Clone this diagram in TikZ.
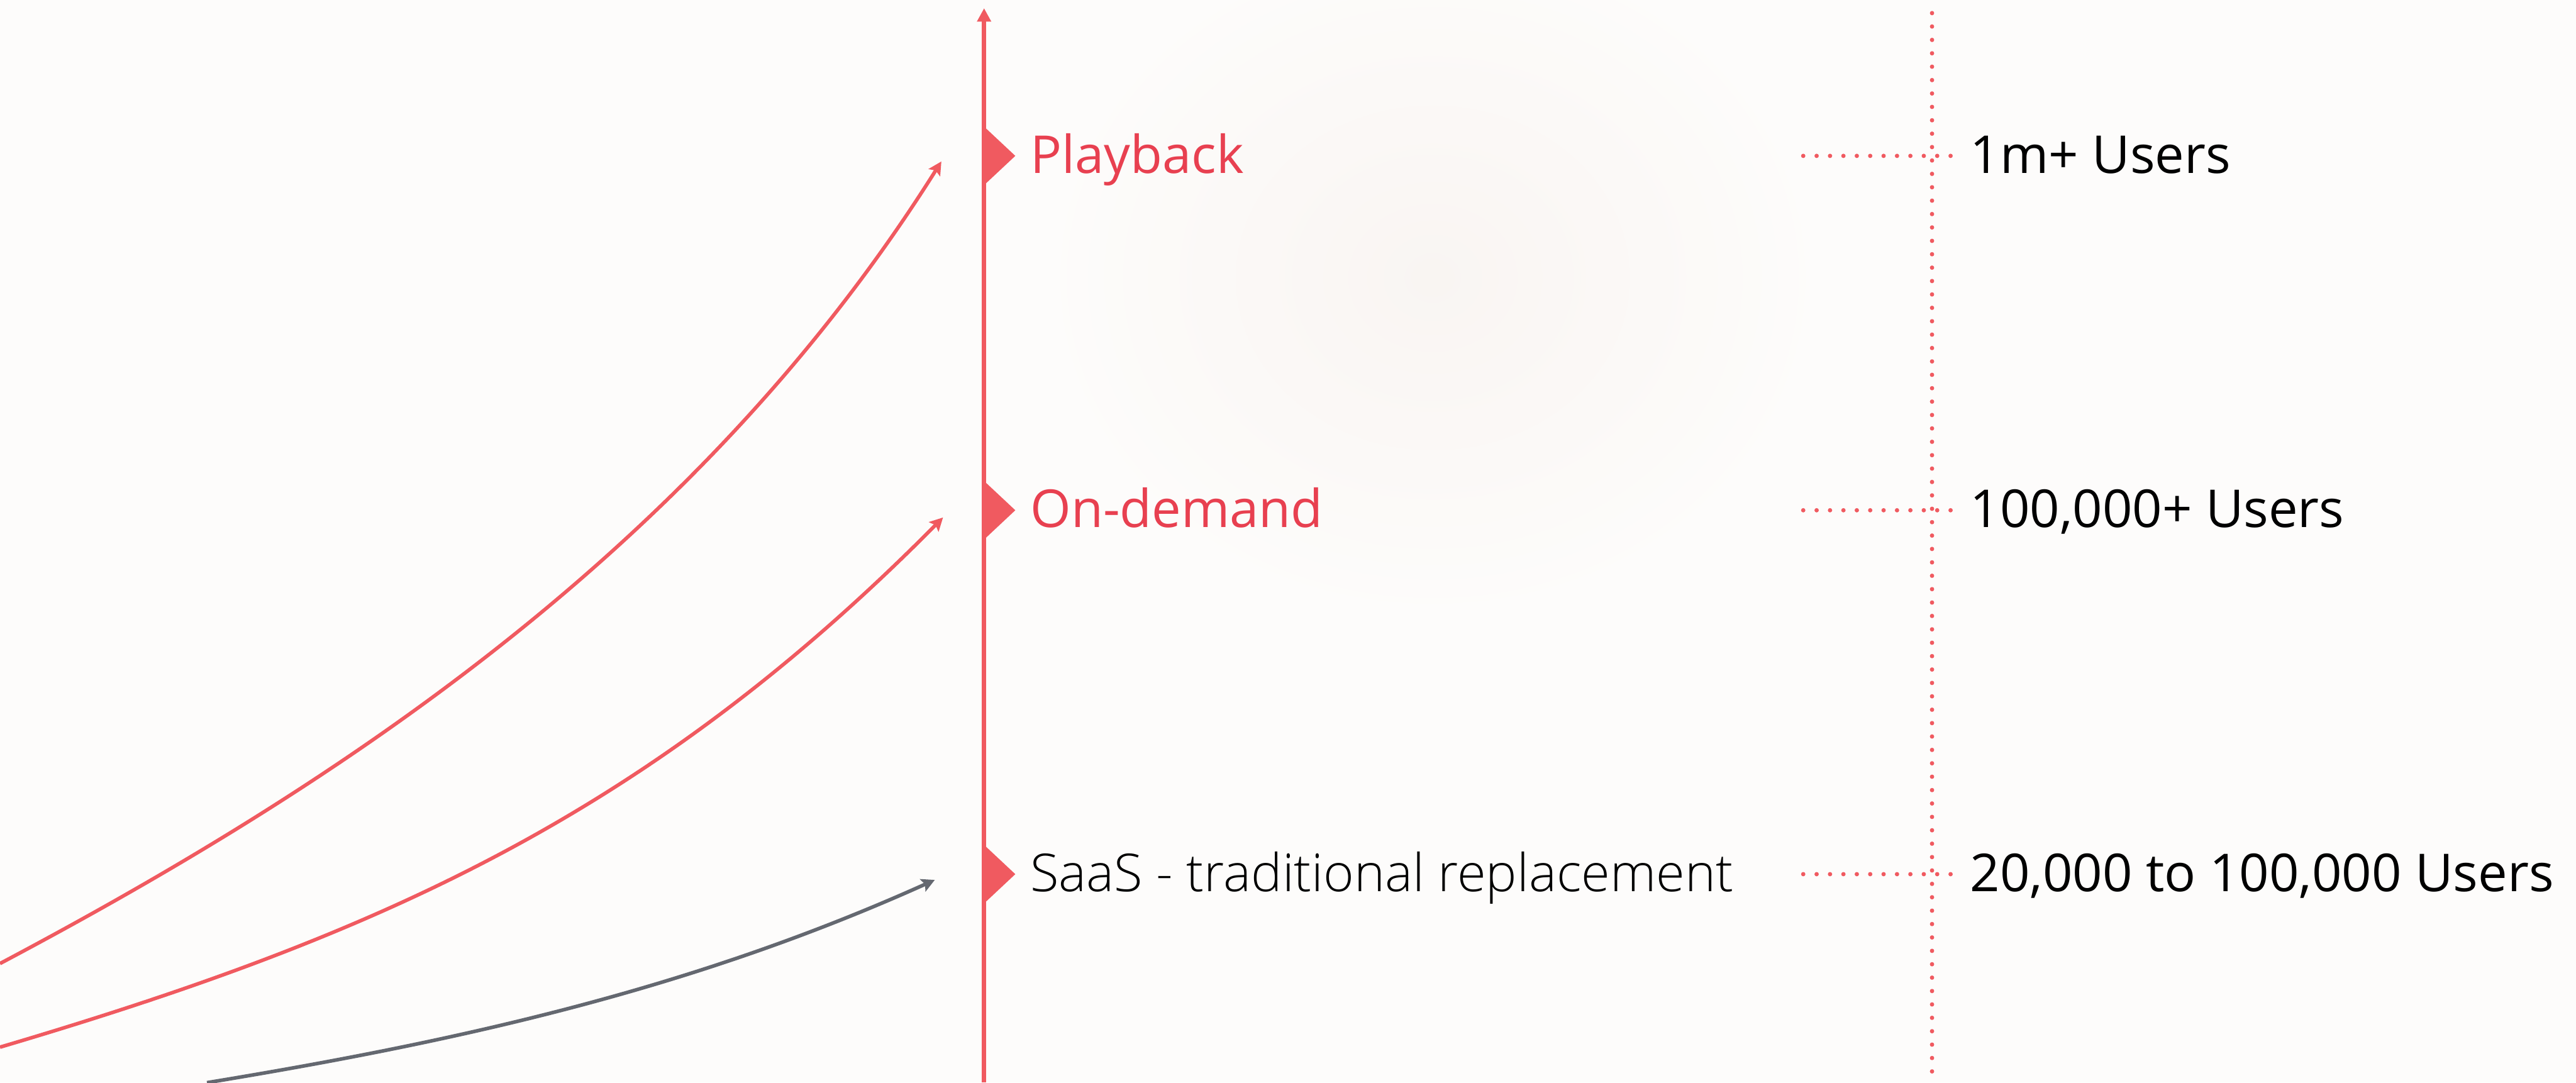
\documentclass[tikz,border=0pt]{standalone}
\usepackage{fontspec}
\setmainfont{Open Sans}
\newfontfamily\lightfont{Open Sans Light}
\usetikzlibrary{arrows.meta, positioning}
\definecolor{myred}{HTML}{F05A60}
\definecolor{mytextred}{HTML}{E84050}
\definecolor{mygray}{HTML}{646870}
\definecolor{mybg}{HTML}{FDFCFB}
\definecolor{myglow}{HTML}{F9F5F2}
\tikzset{
	flagnode/.pic={
			\fill[myred]
			(0,0.178) --
			(0.19,0) --
			(0,-0.178) --
			cycle;
		}
}
\tikzset{
	redtext/.style={font=\fontsize{9.05}{11}\selectfont, text=mytextred, anchor=base west, inner sep=0pt}
}
\tikzset{
	blacktext/.style={font=\fontsize{9.05}{11}\selectfont, text=black, anchor=base west, inner sep=0pt}
}
\tikzset{
	lighttext/.style={font=\lightfont\fontsize{9.05}{11}\selectfont, text=black, anchor=base west, inner sep=0pt}
}
\tikzset{
	dotline/.style={myred, line width=0.75pt, line cap=round, dash pattern=on 0pt off 2.32pt}
}
\tikzset{
	growth/.style={line width=0.62pt, -{Stealth[length=0.08cm, width=0.082cm, inset=0.015cm]}}
}

\begin{document}
\begin{tikzpicture}

			\useasboundingbox (0,0) rectangle (15.68,6.59);

			% paper and soft glow
			\begin{scope}
				\clip (0,0) rectangle (15.68,6.59);
				\fill[mybg] (0,0) rectangle (15.68,6.59);
				\shade[inner color=myglow, outer color=mybg] (8.72,4.9) ellipse (2.4 and 2.1);
			\end{scope}

			% growth curves
			\begin{scope}
				\coordinate (cA0) at (0,0.725);
				\coordinate (cA1) at (5.73,5.607);
				\coordinate (cB0) at (0,0.216);
				\coordinate (cB1) at (5.74,3.44);
				\coordinate (cC0) at (1.26,0);
				\coordinate (cC1) at (5.69,1.234);

				\draw[growth, myred] (cA0) .. controls (2.0,1.785) and (4.23,3.222) .. (cA1);
				\draw[growth, myred] (cB0) .. controls (2.30,0.897) and (3.94,1.622) .. (cB1);
				\draw[growth, mygray] (cC0) .. controls (2.76,0.247) and (4.19,0.559) .. (cC1);
			\end{scope}

			% axis with its flags
			\begin{scope}
				\coordinate (axbot) at (5.99,0);
				\coordinate (axtop) at (5.99,6.54);
				\draw[myred, line width=0.77pt, -{Triangle[length=0.082cm, width=0.082cm]}] (axbot) -- (axtop);

				\coordinate (mP) at (5.99,5.641);
				\coordinate (mO) at (5.99,3.484);
				\coordinate (mS) at (5.99,1.269);

				\pic at (mP) {flagnode};
				\pic at (mO) {flagnode};
				\pic at (mS) {flagnode};

				\node[redtext] (lP) at (6.265,5.536) {Playback};
				\node[redtext] (lO) at (6.265,3.379) {On-demand};
				\node[lighttext] (lS) at (6.265,1.164) {SaaS - traditional replacement};
			\end{scope}

			% user counts
			\begin{scope}
				\coordinate (dtop) at (11.76,6.51);
				\coordinate (dbot) at (11.76,0.06);
				\draw[dotline] (dtop) -- (dbot);

				\coordinate (hP0) at (10.976,5.641);
				\coordinate (hP1) at (11.88,5.641);
				\coordinate (hO0) at (10.976,3.484);
				\coordinate (hO1) at (11.88,3.484);
				\coordinate (hS0) at (10.976,1.269);
				\coordinate (hS1) at (11.88,1.269);

				\draw[dotline] (hP0) -- (hP1);
				\draw[dotline] (hO0) -- (hO1);
				\draw[dotline] (hS0) -- (hS1);

				\node[blacktext] (uP) at (11.985,5.536) {1m+ Users};
				\node[blacktext] (uO) at (11.985,3.379) {100,000+ Users};
				\node[blacktext] (uS) at (11.985,1.164) {20,000 to 100,000 Users};
			\end{scope}

		\end{tikzpicture}
\end{document}
